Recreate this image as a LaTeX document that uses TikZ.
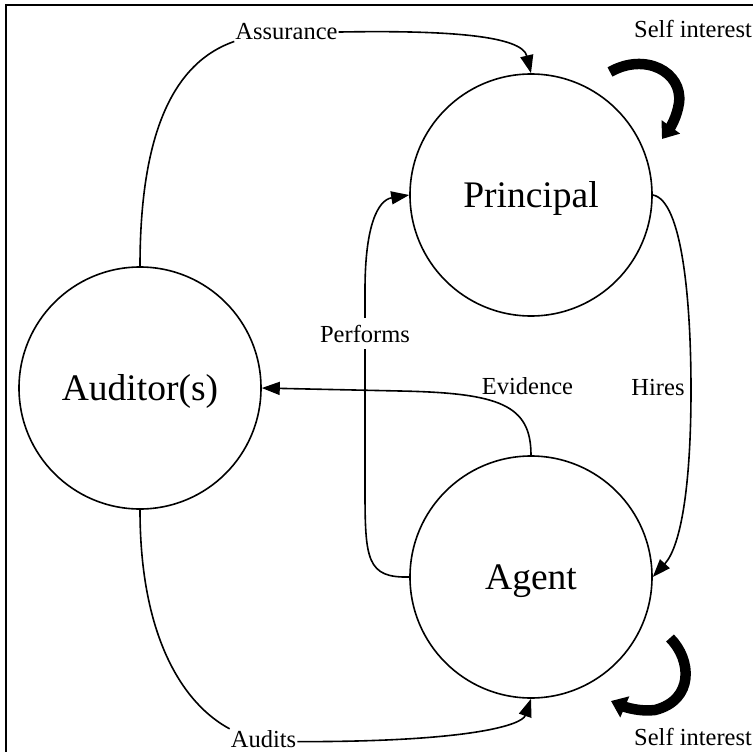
\documentclass[tikz,border=0pt]{standalone}
\usepackage{fontspec}
\setmainfont{Liberation Serif}
\usetikzlibrary{arrows.meta}
\begin{document}
\begin{tikzpicture}[x=1pt,y=-1pt,
  actor/.style={draw, circle, line width=1.6pt, minimum size=242pt, inner sep=0pt,
    font=\fontsize{37.5}{40}\selectfont, text height=25pt, text depth=0pt},
  lbl/.style={font=\fontsize{24.5}{28}\selectfont, inner sep=1pt, anchor=base},
  link/.style={line width=1.6pt},
  flow/.style={line width=1.6pt, -{Triangle[length=18pt,width=13pt]}},
  selfloop/.style={line width=10.5pt, -{Triangle[length=15pt,width=22pt]}}]
\useasboundingbox (0,0) rectangle (753,752);

% frame (top and left edges)
\draw[line width=2.2pt] (6,752) -- (6,5) -- (753,5);

% parties
\node[actor] (aud)   at (140,388) {Auditor(s)};
\node[actor] (prin)  at (531,195) {Principal};
\node[actor] (agent) at (531,577) {Agent};

% labels
\node[lbl] (assL)  at (286.5,40) {Assurance};
\node[lbl] (audL)  at (263.5,747) {Audits};
\node[lbl] (evL)   at (527.5,394) {Evidence};
\node[lbl] (hirL)  at (658,395) {Hires};
\node[lbl, anchor=base west] (siTop) at (633,37.5) {Self interest};
\node[lbl, anchor=base west] (siBot) at (633,745) {Self interest};

% assurance: auditor -> principal
\draw[link] (aud.north) .. controls (140,130) and (175,62) .. (assL.south west);
\draw[flow] (assL.east) .. controls (450,30) and (522,36) .. (prin.north);

% audits: auditor -> agent
\draw[link] (aud.south) .. controls (140,640) and (185,705) .. (audL.north west);
\draw[flow] ([yshift=-3pt]audL.east) .. controls (470,742) and (522,725) .. (agent.south);

% performs: agent -> principal, the label interrupts the line
\draw[flow] (agent.west) .. controls (367,578) and (365,560) .. (365,490)
  -- (365,290) .. controls (365,225) and (378,200) .. (prin.west);
\node[lbl, fill=white, inner xsep=2pt, inner ysep=7pt] (perfL) at (365,342) {Performs};

% evidence: agent -> auditor
\draw[flow] (agent.north) .. controls (531,405) and (500,393) .. (400,391) -- (aud.east);

% hires: principal -> agent
\draw[flow] (prin.east) .. controls (682,200) and (691,300) .. (691,390)
  .. controls (691,480) and (682,545) .. (agent.east);

% self interest loops
\draw[selfloop] (610,72) .. controls (645,52) and (683,72) .. (679,103)
  .. controls (677,117) and (670,128) .. (662,139);
\draw[selfloop] (670,638) .. controls (692,660) and (694,700) .. (655,710)
  .. controls (640,712) and (625,707) .. (611,701);
\end{tikzpicture}
\end{document}
